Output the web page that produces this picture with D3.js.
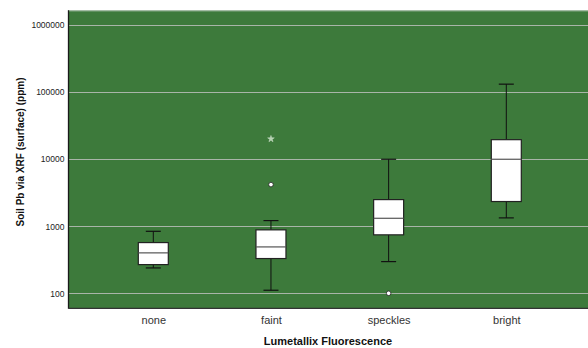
<!DOCTYPE html>
<html><head><meta charset="utf-8">
<script src="https://cdn.jsdelivr.net/npm/d3@7"></script>
<style>body{margin:0;background:#fff}svg{display:block}</style>
</head><body>
<svg id="c" width="588" height="348"></svg>
<script>
const categories = ["none", "faint", "speckles", "bright"];
const whiskerLow = [239, 111, 297, 1334];
const q1 = [268, 330, 745, 2340];
const median = [401, 492, 1316, 10000];
const q3 = [571, 884, 2500, 19600];
const whiskerHigh = [841, 1216, 10000, 132000];
const outliers = [[], [4188], [100], []];
const extremes = [[], [20100], [], []];
const yTicks = [100, 1000, 10000, 100000, 1000000];

(function () {
const svg = d3.select("#c");
const pLeft = 68.5, pTop = 10.3, pBottom = 308.3, pRight = 591;
const y = d3.scaleLog().domain([59.7, 1.67e6]).range([pBottom, pTop]);
const x = d3.scalePoint().domain(categories).range([153.3, 506.3]);
const font = "Arial, 'Liberation Sans', sans-serif";

svg.append("rect").attr("x", pLeft).attr("y", pTop).attr("width", pRight - pLeft).attr("height", pBottom - pTop).attr("fill", "#3d7a3b");
svg.append("line").attr("x1", pLeft).attr("x2", pRight).attr("y1", pTop + 0.5).attr("y2", pTop + 0.5).attr("stroke", "#b8c8b8").attr("stroke-width", 1);

const yAxis = d3.axisLeft(y).tickValues(yTicks).tickFormat(d3.format("d")).tickSize(0).tickPadding(4);
const gy = svg.append("g").attr("transform", `translate(${pLeft},0)`).call(yAxis);
gy.select(".domain").remove();
gy.selectAll("text").attr("font-family", font).attr("font-size", 8.5).attr("fill", "#222");

svg.append("g").selectAll("line").data(yTicks).join("line")
  .attr("x1", pLeft).attr("x2", pRight)
  .attr("y1", d => Math.round(y(d)) + 0.5).attr("y2", d => Math.round(y(d)) + 0.5)
  .attr("stroke", "#a9b5a8").attr("stroke-width", 1);

const xAxis = d3.axisBottom(x).tickSize(0).tickPadding(8);
const gx = svg.append("g").attr("transform", `translate(0,${pBottom})`).call(xAxis);
gx.select(".domain").remove();
gx.selectAll("text").attr("font-family", font).attr("font-size", 11).attr("fill", "#333");

svg.append("line").attr("x1", pLeft).attr("x2", pLeft).attr("y1", pTop).attr("y2", pBottom + 0.5).attr("stroke", "#1a1a1a").attr("stroke-width", 1.3);
svg.append("line").attr("x1", pLeft).attr("x2", pRight).attr("y1", pBottom).attr("y2", pBottom).attr("stroke", "#333").attr("stroke-width", 1.3);

const bw = 30, cw = 15;
const g = svg.append("g");
categories.forEach((c, i) => {
  const cx = x(c);
  g.append("line").attr("x1", cx).attr("x2", cx).attr("y1", y(whiskerHigh[i])).attr("y2", y(q3[i])).attr("stroke", "#111").attr("stroke-width", 1);
  g.append("line").attr("x1", cx).attr("x2", cx).attr("y1", y(q1[i])).attr("y2", y(whiskerLow[i])).attr("stroke", "#111").attr("stroke-width", 1);
  g.append("line").attr("x1", cx - cw / 2).attr("x2", cx + cw / 2).attr("y1", y(whiskerHigh[i])).attr("y2", y(whiskerHigh[i])).attr("stroke", "#111").attr("stroke-width", 1.2);
  g.append("line").attr("x1", cx - cw / 2).attr("x2", cx + cw / 2).attr("y1", y(whiskerLow[i])).attr("y2", y(whiskerLow[i])).attr("stroke", "#111").attr("stroke-width", 1.2);
  g.append("rect").attr("x", cx - bw / 2).attr("y", y(q3[i])).attr("width", bw).attr("height", y(q1[i]) - y(q3[i]))
    .attr("fill", "#fff").attr("stroke", "#222").attr("stroke-width", 1.2);
  g.append("line").attr("x1", cx - bw / 2).attr("x2", cx + bw / 2).attr("y1", y(median[i])).attr("y2", y(median[i])).attr("stroke", "#555").attr("stroke-width", 1.2);
  outliers[i].forEach(v => {
    g.append("circle").attr("cx", cx).attr("cy", y(v)).attr("r", 2.3).attr("fill", "#fff").attr("stroke", "#222").attr("stroke-width", 0.8);
  });
  extremes[i].forEach(v => {
    g.append("path").attr("d", d3.symbol(d3.symbolStar, 14)()).attr("transform", `translate(${cx},${y(v)})`).attr("fill", "#b5d3b2").attr("stroke", "#e0eadf").attr("stroke-width", 0.4);
  });
});

svg.append("text").attr("transform", `translate(23.5,152) rotate(-90)`).attr("text-anchor", "middle")
  .attr("font-family", font).attr("font-size", 10).attr("font-weight", "bold").attr("fill", "#111")
  .text("Soil Pb via XRF (surface) (ppm)");
svg.append("text").attr("x", 328).attr("y", 345).attr("text-anchor", "middle")
  .attr("font-family", font).attr("font-size", 11).attr("font-weight", "bold").attr("fill", "#111")
  .text("Lumetallix Fluorescence");
})();
</script>
</body></html>
